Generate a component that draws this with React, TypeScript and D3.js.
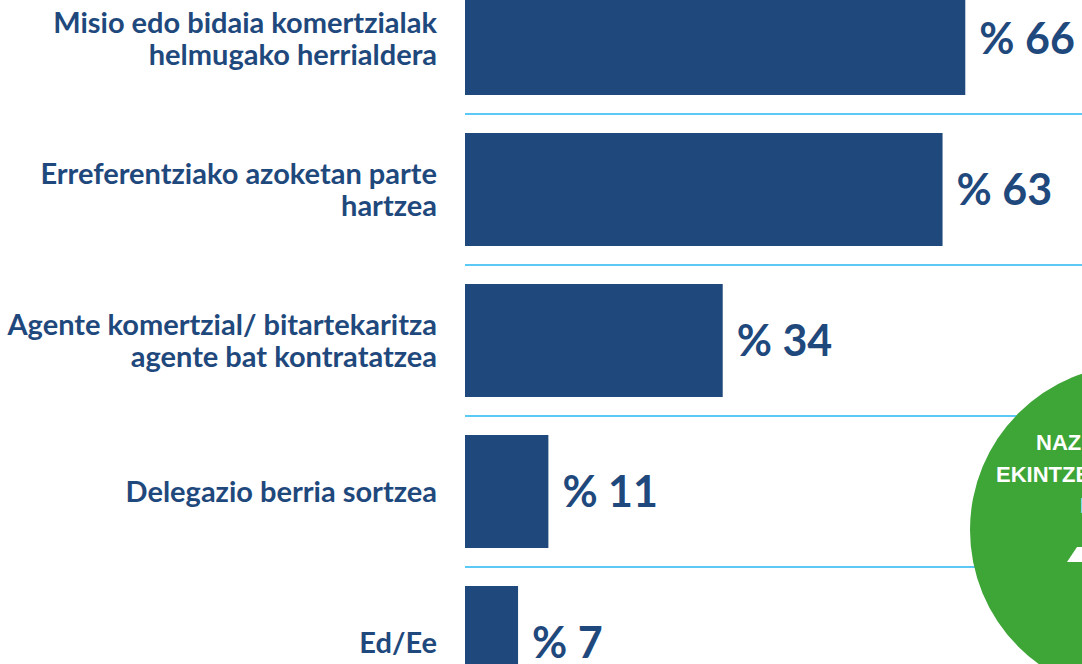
import React from "react";
import * as d3 from "d3";

const categories: string[][] = [
  ["Misio edo bidaia komertzialak", "helmugako herrialdera"],
  ["Erreferentziako azoketan parte", "hartzea"],
  ["Agente komertzial/ bitartekaritza", "agente bat kontratatzea"],
  ["Delegazio berria sortzea"],
  ["Ed/Ee"],
];
const values: number[] = [66, 63, 34, 11, 7];
const circleLines: string[] = ["NAZIOARTEKO", "EKINTZEN", "ERABILERA"];

const W = 1082;
const H = 664;
const BLUE = "#1F497D";
const LINE = "#5BC8F5";
const GREEN = "#3EA537";
const FONT = "Lato, 'Open Sans', sans-serif";

export default function App() {
  const ids = categories.map((_, i) => String(i));
  const y = d3
    .scaleBand<string>()
    .domain(ids)
    .range([-37, 718])
    .paddingInner(38 / 151)
    .paddingOuter(19 / 151);
  const x = d3.scaleLinear().domain([0, 100]).range([465, 1223]);
  const bw = y.bandwidth();
  const gap = y.step() - bw;

  return (
    <svg
      width={W}
      height={H}
      style={{ position: "absolute", left: 0, top: 0, background: "#fff" }}
      fontFamily={FONT}
    >
      <rect width={W} height={H} fill="#fff" />
      {ids.slice(0, -1).map((id) => (
        <line
          key={"l" + id}
          x1={x(0)}
          x2={W}
          y1={(y(id) as number) + bw + gap / 2}
          y2={(y(id) as number) + bw + gap / 2}
          stroke={LINE}
          strokeWidth={2}
        />
      ))}
      {/* green circle */}
      <circle cx={1135} cy={530} r={165} fill={GREEN} />
      <g fill="#fff" fontWeight={700} fontSize={22} fontFamily="'Liberation Sans', Arial, sans-serif">
        <text x={1036} y={450}>{circleLines[0]}</text>
        <text x={996} y={482}>{circleLines[1]}</text>
        <text x={1080} y={513}>{circleLines[2]}</text>
      </g>
      <path d="M1067,562 L1077,547 L1082,547 L1082,562 Z" fill="#fff" />
      {ids.map((id, i) => {
        const top = y(id) as number;
        const cy = top + bw / 2;
        const lines = categories[i];
        const lh = 32;
        return (
          <g key={id}>
            <rect x={x(0)} y={top} width={x(values[i]) - x(0)} height={bw} fill={BLUE} />
            <text
              x={x(values[i]) + 14}
              y={cy}
              dy="0.36em"
              fill={BLUE}
              fontSize={43}
              fontWeight={700}
            >
              {"% " + values[i]}
            </text>
            {lines.map((ln, j) => (
              <text
                key={j}
                x={437}
                y={cy + (j - (lines.length - 1) / 2) * lh}
                dy="0.36em"
                textAnchor="end"
                fill={BLUE}
                fontSize={29}
                fontWeight={700}
              >
                {ln}
              </text>
            ))}
          </g>
        );
      })}
    </svg>
  );
}
